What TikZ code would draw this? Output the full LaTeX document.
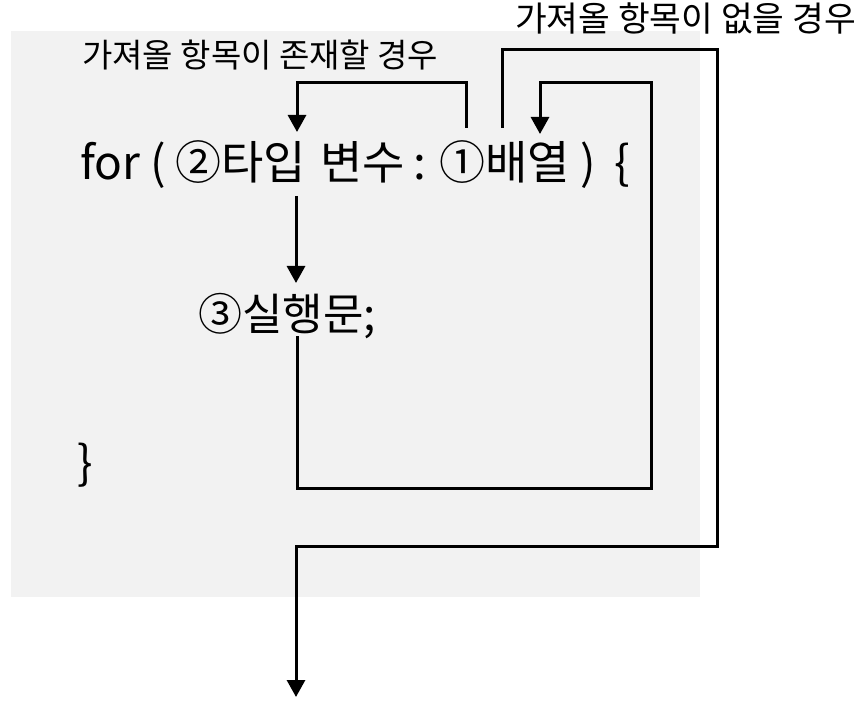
\documentclass[tikz,border=0pt]{standalone}
\usepackage{fontspec}
\setmainfont{Noto Sans CJK KR}
\usetikzlibrary{arrows.meta}
\definecolor{bg}{HTML}{F2F2F2}
\begin{document}
\begin{tikzpicture}[x=1pt,y=-1pt,
 flow/.style={line width=3pt,line join=miter,-{Triangle[width=18pt,length=17pt]}},
 big/.style={font=\fontsize{46}{54}\selectfont, inner sep=0pt, anchor=base west},
 mid/.style={font=\fontsize{44}{52}\selectfont, inner sep=0pt, anchor=base west},
 small/.style={font=\fontsize{33}{40}\selectfont, inner sep=0pt, anchor=base west}]
\useasboundingbox (0,0) rectangle (859,703);
\fill[bg] (11,31) rectangle (700,597);
% texts
\node[small] (lab1) at (82,68) {가져올 항목이 존재할 경우};
\node[small, font=\fontsize{34.5}{40}\selectfont, anchor=base east] (lab2) at (856,32) {가져올 항목이 없을 경우};
\node[big] (for) at (80,180) {for};
\node[big] (lp) at (150,180) {(};
\node[big] (var1) at (175,180) {②타입};
\node[big] (var2) at (320,180) {변수};
\node[big] (colon) at (413,180) {:};
\node[big] (arr) at (439,180) {①배열};
\node[big] (rp) at (580,180) {)};
\node[big] (lb) at (614,180) {\{};
\node[mid] (stmt) at (198,330) {③실행문;};
\node[big] (rb) at (77,479) {\}};
% connector points
\coordinate (a1s) at (466,128);
\coordinate (a1e) at (297,132);
\coordinate (a2s) at (502,128);
\coordinate (a2e) at (296,697);
\coordinate (a3s) at (296,196);
\coordinate (a3e) at (296,283);
\coordinate (a4s) at (297,336);
\coordinate (a4e) at (540,134);
% connectors
\draw[flow] (a1s) -- (466,83) -- (297,83) -- (a1e);
\draw[flow] (a2s) -- (502,50) -- (717,50) -- (717,546) -- (296,546) -- (a2e);
\draw[flow] (a3s) -- (a3e);
\draw[flow] (a4s) -- (297,488) -- (651,488) -- (651,83) -- (540,83) -- (a4e);
\end{tikzpicture}
\end{document}
